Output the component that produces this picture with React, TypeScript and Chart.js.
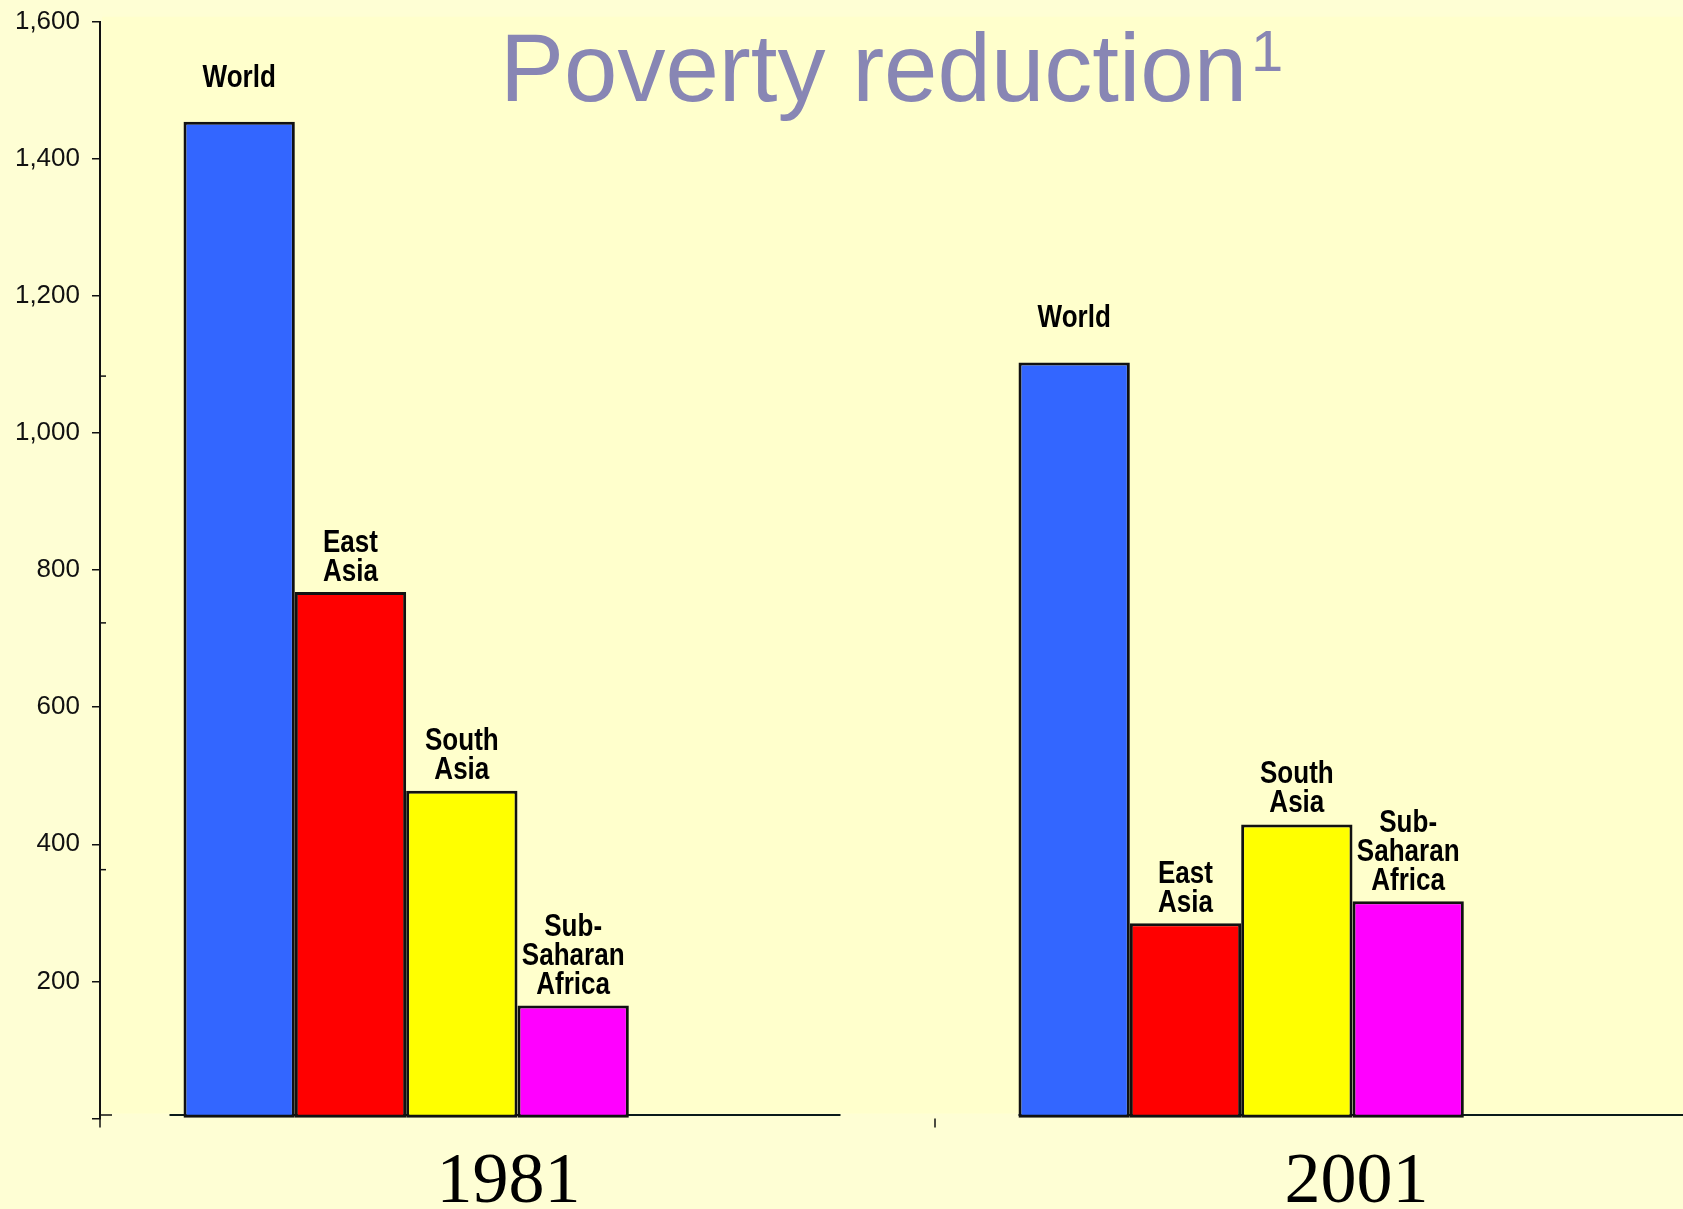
import React, { useEffect, useRef } from "react";
import { Chart, registerables } from "chart.js";

Chart.register(...registerables);

// ---- data ----
const years = ["1981", "2001"];
const seriesNames = ["World", "East Asia", "South Asia", "Sub-Saharan Africa"];
const seriesLabelLines = [["World"], ["East", "Asia"], ["South", "Asia"], ["Sub-", "Saharan", "Africa"]];
const world = [1454, 1103];
const eastAsia = [768, 285];
const southAsia = [478, 429];
const subSaharanAfrica = [165, 317];
const yTickValues = [0, 200, 400, 600, 800, 1000, 1200, 1400, 1600];
const minorTickValues = [363, 723, 1083];
const titleText = "Poverty reduction";
const titleSup = "1";

// ---- styles ----
const barColors = ["#3366FF", "#FF0000", "#FFFF00", "#FF00FF"];
const labelGaps = [35, 11, 12, 11];
const yearLabelShift = [-9, 4];
const baselineFrom = [-348, -334];
const baselineTo = [323, 345];
const PAGE_BG = "#FEFED4";
const PLOT_BG = "#FFFFCC";
const INK = "#111111";

const decorPlugin = {
  id: "decor",
  beforeDraw(chart: any) {
    const { ctx, chartArea } = chart;
    ctx.save();
    ctx.fillStyle = PLOT_BG;
    ctx.fillRect(chartArea.left + 2, chartArea.top - 5, chartArea.right - chartArea.left, chartArea.bottom - chartArea.top);
    ctx.restore();
  },
  beforeDatasetsDraw(chart: any) {
    const { ctx, chartArea, scales } = chart;
    const x = scales.x;
    ctx.save();
    ctx.strokeStyle = "#0a1a1a";
    ctx.lineWidth = 2;
    years.forEach((_, i) => {
      const c = x.getPixelForValue(i);
      ctx.beginPath();
      ctx.moveTo(c + baselineFrom[i], chartArea.bottom - 3.5);
      ctx.lineTo(c + baselineTo[i], chartArea.bottom - 3.5);
      ctx.stroke();
    });
    ctx.restore();
  },
  afterDraw(chart: any) {
    const { ctx, chartArea, scales } = chart;
    const x = scales.x;
    const y = scales.y;
    ctx.save();

    // y-axis extension below baseline & category boundary ticks
    ctx.strokeStyle = INK;
    ctx.lineWidth = 1.5;
    const p0 = x.getPixelForValue(0);
    const p1 = x.getPixelForValue(1);
    const boundaries = [chartArea.left, (p0 + p1) / 2];
    boundaries.forEach((bx) => {
      ctx.beginPath();
      ctx.moveTo(bx, chartArea.bottom);
      ctx.lineTo(bx, chartArea.bottom + 9);
      ctx.stroke();
    });
    // short stub right of axis at zero
    ctx.beginPath();
    ctx.moveTo(chartArea.left, chartArea.bottom - 3.5);
    ctx.lineTo(chartArea.left + 12, chartArea.bottom - 3.5);
    ctx.stroke();

    // minor ticks (right of axis)
    minorTickValues.forEach((v) => {
      const py = y.getPixelForValue(v);
      ctx.beginPath();
      ctx.moveTo(chartArea.left, py);
      ctx.lineTo(chartArea.left + 6, py);
      ctx.stroke();
    });

    // bar labels (condensed bold sans)
    ctx.fillStyle = "#000";
    ctx.font = 'bold 31px "Liberation Sans", Arial, sans-serif';
    ctx.textAlign = "center";
    ctx.textBaseline = "alphabetic";
    const lineH = 29;
    seriesNames.forEach((_, di) => {
      const meta = chart.getDatasetMeta(di);
      meta.data.forEach((bar: any) => {
        const lines = seriesLabelLines[di];
        const baseY = bar.y - labelGaps[di];
        lines.forEach((ln, li) => {
          ctx.save();
          ctx.translate(bar.x, baseY - (lines.length - 1 - li) * lineH);
          ctx.scale(0.84, 1);
          ctx.fillText(ln, 0, 0);
          ctx.restore();
        });
      });
    });

    // category labels
    ctx.font = '72px "Liberation Serif", "Times New Roman", serif';
    ctx.fillStyle = "#000";
    years.forEach((yr, i) => {
      ctx.fillText(yr, x.getPixelForValue(i) + yearLabelShift[i], 1202);
    });

    // title
    ctx.textAlign = "left";
    ctx.fillStyle = "#8886B4";
    ctx.font = '96px "Liberation Sans", Arial, sans-serif';
    const tx = 500;
    ctx.fillText(titleText, tx, 101);
    const w = ctx.measureText(titleText).width;
    ctx.font = '58px "Liberation Sans", Arial, sans-serif';
    ctx.fillText(titleSup, tx + w + 4, 71);

    ctx.restore();
  },
};

export default function App() {
  const ref = useRef<HTMLCanvasElement | null>(null);

  useEffect(() => {
    if (!ref.current) return;
    const seriesData = [world, eastAsia, southAsia, subSaharanAfrica];
    const datasets: any[] = seriesNames.map((name, i) => ({
      label: name,
      data: seriesData[i],
      backgroundColor: barColors[i],
      borderColor: INK,
      borderWidth: 3,
      borderSkipped: false,
      categoryPercentage: 0.8,
      barPercentage: 1.0,
    }));
    // two empty slots that the original layout reserves in each group
    datasets.push({ label: "", data: [null, null], categoryPercentage: 0.8, barPercentage: 1.0 });
    datasets.push({ label: "", data: [null, null], categoryPercentage: 0.8, barPercentage: 1.0 });

    const chart = new Chart(ref.current, {
      type: "bar",
      data: { labels: years, datasets },
      options: {
        responsive: false,
        animation: false,
        devicePixelRatio: 1,
        layout: { padding: { top: 21.7, bottom: 90.5, left: 0, right: 0 } },
        plugins: { legend: { display: false }, tooltip: { enabled: false }, title: { display: false } },
        scales: {
          x: { type: "category", display: false, offset: true },
          y: {
            min: 0,
            max: 1600,
            afterBuildTicks: (s: any) => {
              s.ticks = yTickValues.map((v) => ({ value: v }));
            },
            afterFit: (s: any) => {
              s.width = 100;
              s.paddingTop = 0;
              s.paddingBottom = 0;
            },
            ticks: {
              callback: (v: any) => (Number(v) === 0 ? "" : Number(v).toLocaleString("en-US")),
              font: { family: '"Liberation Sans", Arial, sans-serif', size: 26 },
              color: INK,
              padding: 12,
            },
            grid: { drawOnChartArea: false, drawTicks: true, tickLength: 8, color: INK, lineWidth: 1.5 },
            border: { display: true, color: INK, width: 2 },
          },
        },
      },
      plugins: [decorPlugin],
    } as any);
    return () => chart.destroy();
  }, []);

  return (
    <div
      style={{
        position: "fixed",
        left: 0,
        top: 0,
        width: 1683,
        height: 1209,
        overflow: "hidden",
        background: PAGE_BG,
      }}
    >
      <canvas ref={ref} width={1770} height={1209} style={{ display: "block", width: 1770, height: 1209 }} />
    </div>
  );
}
